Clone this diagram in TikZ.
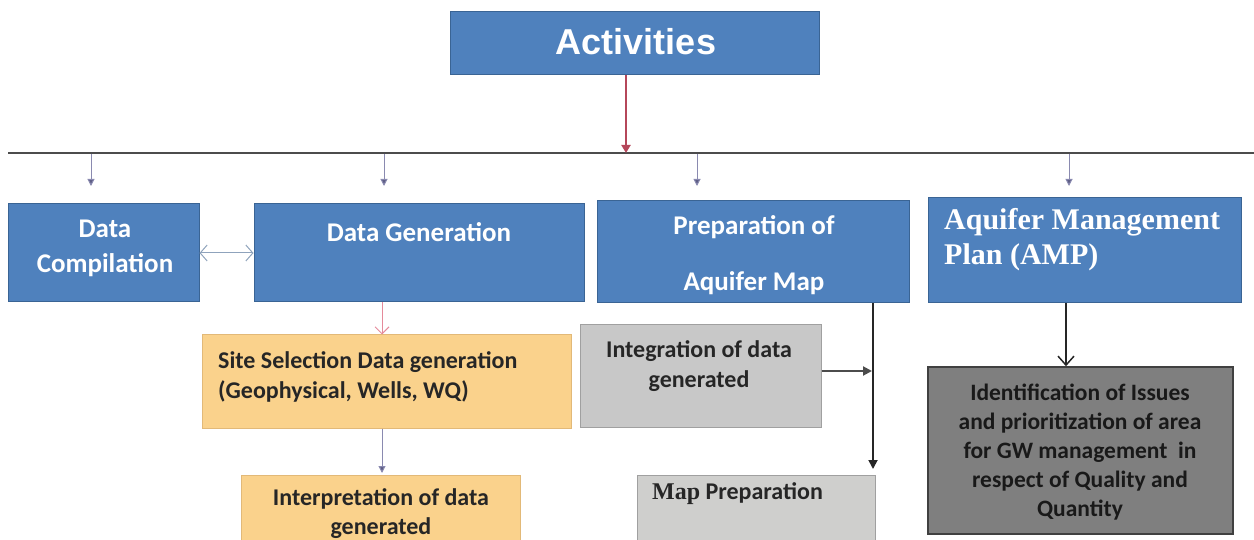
\documentclass[tikz,border=0pt]{standalone}
\usepackage{fontspec}
\setmainfont{Carlito}
\newfontfamily\serifb{Liberation Serif}
\newfontfamily\arialf{Liberation Sans}
\usetikzlibrary{arrows.meta}
\definecolor{hblue}{HTML}{4F81BD}
\definecolor{hblueline}{HTML}{3A6494}
\definecolor{orng}{HTML}{FAD28C}
\definecolor{orngline}{HTML}{E2B978}
\definecolor{lgray}{HTML}{C8C8C8}
\definecolor{lgray2}{HTML}{CFCFCD}
\definecolor{dgray}{HTML}{7F7F7F}
\definecolor{txtdark}{HTML}{262626}
\definecolor{redarrow}{HTML}{B5475A}
\definecolor{thinblue}{HTML}{8A8AB0}
\definecolor{tipblue}{HTML}{5E5E86}
\definecolor{dblarrow}{HTML}{8FA3BC}
\definecolor{pinkarrow}{HTML}{E58A9A}
\tikzset{
  bluebox/.style={draw=hblueline, line width=1pt, fill=hblue, inner sep=0pt},
  orangebox/.style={draw=orngline, line width=1pt, fill=orng, inner sep=0pt},
  graybox/.style={draw=lgray!80!black, line width=1pt, fill=lgray, inner sep=0pt},
  darkbox/.style={draw=black!75, line width=1.5pt, fill=dgray, inner sep=0pt},
  headtxt/.style={text=white, font=\fontsize{27}{35}\selectfont\bfseries, inner sep=0pt, align=center},
  lowtxt/.style={text=txtdark, font=\fontsize{24}{30}\selectfont\bfseries, inner sep=0pt},
  smallarrow/.style={draw=thinblue, line width=1pt, -{Triangle[width=7pt,length=7pt,fill=tipblue]}},
  blackarrow/.style={draw=black!85, line width=1.8pt, -{Triangle[width=9pt,length=9pt]}},
}
\begin{document}
\begin{tikzpicture}[x=1pt,y=-1pt]
\useasboundingbox (0,0) rectangle (1254,540);
\clip (0,0) rectangle (1254,540);
% boxes
\node[bluebox, minimum width=369pt, minimum height=63pt] (act) at (634.5,43.5) {};
\node[bluebox, minimum width=191pt, minimum height=98pt] (comp) at (103.5,253) {};
\node[bluebox, minimum width=330pt, minimum height=98pt] (gen) at (419,253) {};
\node[bluebox, minimum width=312pt, minimum height=102pt] (prep) at (753,252) {};
\node[bluebox, minimum width=313pt, minimum height=105pt] (amp) at (1084.5,250.5) {};
\node[orangebox, minimum width=369pt, minimum height=93pt] (site) at (386.5,381.5) {};
\node[orangebox, minimum width=279pt, minimum height=80pt] (interp) at (380.5,515) {};
\node[graybox, minimum width=241pt, minimum height=102pt] (integ) at (700.5,376) {};
\node[graybox, fill=lgray2, minimum width=238pt, minimum height=80pt] (mapp) at (756,515) {};
\node[darkbox, minimum width=305pt, minimum height=167pt] (ident) at (1080.5,450.5) {};
% texts
\node[headtxt, text=white, font=\fontsize{36}{40}\selectfont\bfseries\arialf] (acttxt) at (636,42) {Activities};
\node[headtxt] (comptxt) at (105,248) {Data\\Compilation};
\node[headtxt] (gentxt) at (419,232) {Data Generation};
\node[headtxt, font=\fontsize{27}{56}\selectfont\bfseries] (preptxt) at (754,255) {Preparation of\\Aquifer Map};
\node[headtxt, font=\fontsize{30}{35}\selectfont\bfseries\serifb, align=left, anchor=west] (amptxt) at (944,240) {Aquifer Management\\Plan (AMP)};
\node[lowtxt, align=left, anchor=west] (sitetxt) at (218,377) {Site Selection Data generation\\(Geophysical, Wells, WQ)};
\node[lowtxt, align=center, font=\fontsize{24}{29}\selectfont\bfseries] (interptxt) at (381,514) {Interpretation of data\\generated};
\node[lowtxt, align=center] (integtxt) at (699,366) {Integration of data\\generated};
\node[lowtxt, anchor=west] (mapptxt) at (652,494) {{\serifb Map} Preparation};
\node[lowtxt, align=center, text=black!90, font=\fontsize{23.5}{29}\selectfont\bfseries] (identtxt) at (1080,452) {Identification of Issues\\and prioritization of area\\for GW management~~in\\respect of Quality and\\Quantity};
% horizontal bus
\coordinate (busL) at (8,153);
\coordinate (busR) at (1254,153);
\draw[line width=2pt, black!70] (busL) -- (busR);
\coordinate (busA) at (626,153);
\draw[redarrow, line width=2.5pt, -{Triangle[width=9pt,length=8pt]}] (act.south -| busA) -- (busA);
% small arrows
\foreach \x/\n in {91/a,384/b,697/c,1069/d}{
  \coordinate (s\n) at (\x,154);
  \coordinate (e\n) at (\x,186);
  \draw[smallarrow] (s\n) -- (e\n);
}
% double arrow
\draw[dblarrow, line width=1pt, {Straight Barb[length=7pt,width=16pt]}-{Straight Barb[length=7pt,width=16pt]}] (comp.east) -- (gen.west);
% gen -> site
\coordinate (gx) at (382,0);
\draw[pinkarrow, line width=1pt, -{Straight Barb[length=7pt,width=14pt]}] (gen.south -| gx) -- (site.north -| gx);
% site -> interp
\coordinate (ie) at (382,473);
\draw[smallarrow] (site.south -| gx) -- (ie);
% prep -> down line
\coordinate (px) at (873,0);
\coordinate (pend) at (873,469);
\draw[blackarrow] (prep.south -| px) -- (pend);
% integ -> line
\coordinate (ij) at (872,371);
\draw[black!70, line width=2pt, -{Triangle[width=9pt,length=9pt]}] (integ.east |- ij) -- (ij);
% amp -> ident
\coordinate (ax) at (1066,0);
\draw[black!85, line width=1.5pt, -{Straight Barb[length=9pt,width=16pt]}] (amp.south -| ax) -- (ident.north -| ax);
\end{tikzpicture}
\end{document}
